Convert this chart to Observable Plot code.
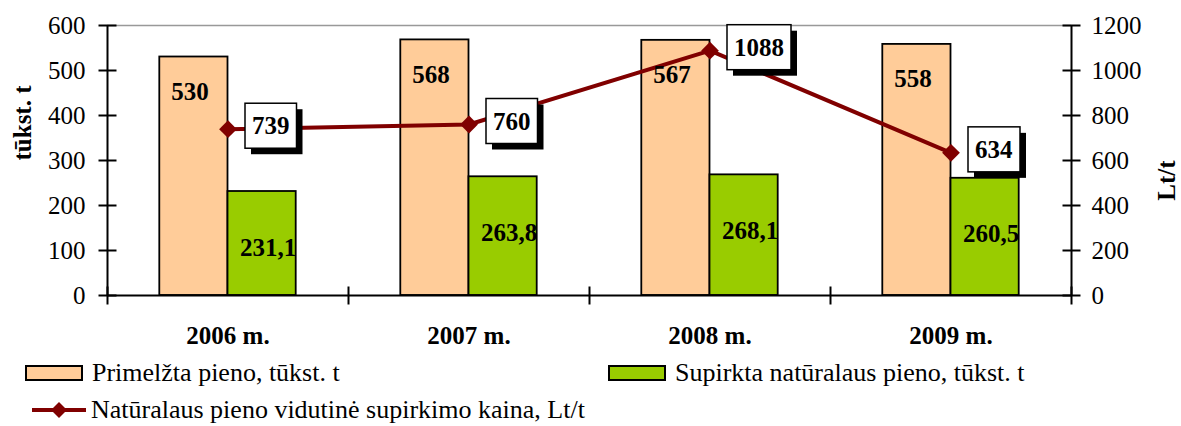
<!DOCTYPE html>
<html><head><meta charset="utf-8">
<script src="https://cdn.jsdelivr.net/npm/d3@7"></script>
<script src="https://cdn.jsdelivr.net/npm/@observablehq/plot@0.6"></script>
<style>
body{margin:0;background:#fff;font-family:"Liberation Serif","Times New Roman",serif;color:#000;}
#chart{width:1181px;height:350px;}
.legend{position:relative;width:1181px;height:76px;font-size:26px;}
.item{position:absolute;display:flex;align-items:center;height:28px;white-space:nowrap;}
.sw{width:58px;height:16px;border:2px solid #000;box-sizing:border-box;margin-right:9px;}
.item svg{margin-right:5px;}
</style></head><body>
<div id="chart"></div>
<div class="legend" id="legend"></div>
<script>
const years = ["2006 m.", "2007 m.", "2008 m.", "2009 m."];
const milked = [530, 568, 567, 558];
const purchased = [231.1, 263.8, 268.1, 260.5];
const price = [739, 760, 1088, 634];
const leftTicks = [0, 100, 200, 300, 400, 500, 600];
const rightTicks = [0, 200, 400, 600, 800, 1000, 1200];
const seriesNames = ["Primelžta pieno, tūkst. t", "Supirkta natūralaus pieno, tūkst. t", "Natūralaus pieno vidutinė supirkimo kaina, Lt/t"];
const colors = ["#FFCC99", "#99CC00", "#800000"];

const k = d3.max(rightTicks) / d3.max(leftTicks);
const w = 0.283;
const fmt = v => String(v).replace(".", ",");
const bars = years.flatMap((y, i) => [
  {i, s: 0, value: milked[i]},
  {i, s: 1, value: purchased[i]}
]);
const prices = price.map((v, i) => ({i, v, y: v / k}));
const bounds = d3.range(years.length + 1).map(i => i - 0.5);

const hline = {draw(ctx, size) { const r = Math.sqrt(size / Math.PI); ctx.moveTo(-r, 0); ctx.lineTo(r, 0); }};
const vline = {draw(ctx, size) { const r = Math.sqrt(size / Math.PI); ctx.moveTo(0, -r); ctx.lineTo(0, r); }};

const plot = Plot.plot({
  width: 1181, height: 350,
  marginLeft: 107, marginRight: 110, marginTop: 25, marginBottom: 55,
  x: {type: "linear", domain: [-0.5, years.length - 0.5]},
  y: {domain: [0, d3.max(leftTicks)]},
  style: {fontFamily: "'Liberation Serif', 'Times New Roman', serif", fontSize: "25px", color: "#000", background: "#fff"},
  marks: [
    Plot.ruleY([d3.max(leftTicks)], {stroke: "#999", strokeWidth: 1.5}),
    Plot.rectY(bars, {x1: d => d.s === 0 ? d.i - w : d.i, x2: d => d.s === 0 ? d.i : d.i + w, y1: 0, y2: "value",
      fill: d => colors[d.s], stroke: "#000", strokeWidth: 1.8}),
    Plot.ruleX([bounds[0], bounds[bounds.length - 1]], {y1: 0, y2: d3.max(leftTicks), stroke: "#000", strokeWidth: 2}),
    Plot.ruleY([0], {stroke: "#000", strokeWidth: 2}),
    Plot.dot(leftTicks, {x: bounds[0], y: d => d, symbol: hline, r: 9, stroke: "#000", strokeWidth: 2, fill: "none"}),
    Plot.dot(rightTicks, {x: bounds[bounds.length - 1], y: d => d / k, symbol: hline, r: 9, stroke: "#000", strokeWidth: 2, fill: "none"}),
    Plot.dot(bounds, {x: d => d, y: 0, symbol: vline, r: 9, stroke: "#000", strokeWidth: 2, fill: "none"}),
    Plot.axisY({ticks: leftTicks, tickSize: 0, tickPadding: 22, label: null, fontSize: 25}),
    Plot.axisY({anchor: "right", ticks: rightTicks.map(v => v / k), tickFormat: d => String(d * k), tickSize: 0, tickPadding: 20, label: null, fontSize: 25}),
    Plot.axisX({ticks: d3.range(years.length), tickFormat: i => years[i], tickSize: 0, tickPadding: 31, label: null, fontWeight: "bold", fontSize: 25}),
    Plot.text(["tūkst. t"], {frameAnchor: "left", text: d => d, rotate: -90, dx: -85, fontWeight: "bold", fontSize: 25}),
    Plot.text(["Lt/t"], {frameAnchor: "right", text: d => d, rotate: -90, dx: 95, fontWeight: "bold", fontSize: 25}),
    Plot.line(prices, {x: "i", y: "y", stroke: colors[2], strokeWidth: 4}),
    Plot.dot(prices, {x: "i", y: "y", symbol: "diamond2", r: 8, fill: colors[2]}),
    Plot.text(bars.filter(d => d.s === 0), {x: d => d.i - w / 2, y: "value", text: d => fmt(d.value), dy: 35, dx: -4, fontWeight: "bold", fontSize: 25}),
    Plot.text(bars.filter(d => d.s === 1), {x: d => d.i + w / 2, y: "value", text: d => fmt(d.value), dy: 56, dx: 6, fontWeight: "bold", fontSize: 25}),
    Plot.text(prices, {x: "i", y: "y", text: d => fmt(d.v), textAnchor: "start", dx: 24, dy: -3, fontWeight: "bold", fontSize: 25, className: "pl"})
  ]
});
document.getElementById("chart").append(plot);

// boxes with drop shadow behind the price labels
plot.querySelectorAll("g.pl text").forEach(t => {
  const b = t.getBBox();
  const px = 7, py = 10, sh = 6;
  const ns = "http://www.w3.org/2000/svg";
  const tr = t.getAttribute("transform");
  const mk = (dx, fill, stroke) => {
    const r = document.createElementNS(ns, "rect");
    r.setAttribute("x", b.x - px + dx);
    r.setAttribute("y", b.y - py + dx + 1);
    r.setAttribute("width", b.width + 2 * px);
    r.setAttribute("height", b.height + 2 * py - 2);
    r.setAttribute("fill", fill);
    if (stroke) { r.setAttribute("stroke", stroke); r.setAttribute("stroke-width", 1.5); }
    if (tr) r.setAttribute("transform", tr);
    t.parentNode.insertBefore(r, t);
  };
  mk(sh, "#000", null);
  mk(0, "#fff", "#000");
});

// legend
const lg = document.getElementById("legend");
lg.innerHTML = `
<div class="item" style="left:25px;top:9px"><span class="sw" style="background:${colors[0]}"></span>${seriesNames[0]}</div>
<div class="item" style="left:608px;top:9px"><span class="sw" style="background:${colors[1]}"></span>${seriesNames[1]}</div>
<div class="item" style="left:32px;top:46px"><svg width="54" height="20"><line x1="0" y1="10" x2="54" y2="10" stroke="${colors[2]}" stroke-width="4"/><path d="M27,2L35,10L27,18L19,10Z" fill="${colors[2]}"/></svg>${seriesNames[2]}</div>`;
</script>
</body></html>
